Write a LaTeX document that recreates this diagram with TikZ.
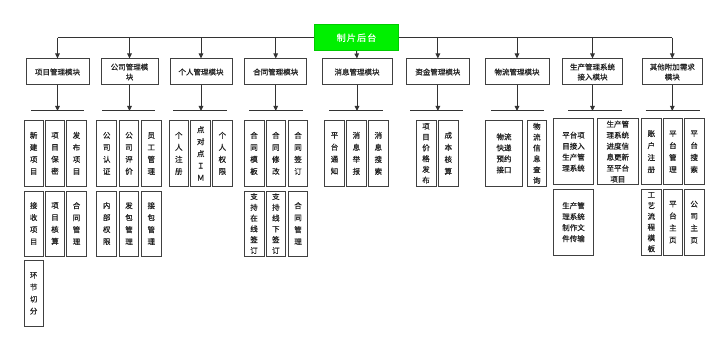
\documentclass[tikz,border=0pt]{standalone}
\usepackage{fontspec}
\setmainfont{Noto Sans CJK SC}[FakeBold=0.6]
\usetikzlibrary{arrows.meta}
\definecolor{ln}{HTML}{333333}
\definecolor{bd}{HTML}{404040}
\definecolor{txt}{HTML}{222222}
\definecolor{topgreen}{HTML}{00F000}
\tikzset{
  conn/.style={draw=ln,line width=1pt},
  arr/.style={conn,-{Triangle[width=4.5pt,length=5pt]}},
  modbox/.style={draw=bd,line width=1pt,fill=white,inner sep=0pt,align=center,text=txt,
    font=\fontsize{7.5}{10}\selectfont},
  leaf/.style={draw=bd,line width=1pt,fill=white,inner sep=0pt,align=center,text=txt,
    font=\fontsize{7.5}{12}\selectfont},
  tight/.style={font=\fontsize{7.5}{10.8}\selectfont},
  hz/.style={font=\fontsize{7.5}{11}\selectfont},
  topbox/.style={fill=topgreen,draw=topgreen!85!black,line width=0.6pt,text=white,inner sep=0pt,
    font=\fontsize{9}{11}\selectfont}
}
\newcommand{\bx}[7][]{%
  \pgfmathsetmacro{\bxw}{#5-#3}\pgfmathsetmacro{\bxh}{#6-#4}%
  \pgfmathsetmacro{\bxx}{(#3+#5)/2}\pgfmathsetmacro{\bxy}{(#4+#6)/2}%
  \node[#1,minimum width=\bxw pt,minimum height=\bxh pt] (#2) at (\bxx,\bxy) {#7};}
\begin{document}
\begin{tikzpicture}[x=1pt,y=-1pt]
\useasboundingbox (0,0) rectangle (720,342);
\fill[white] (0,0) rectangle (720,342);
% bus
\coordinate (busL) at (57.5,37.7);
\coordinate (busR) at (672,37.7);
\draw[conn] (busL) -- (busR);
% top node
\bx[topbox]{top}{314.7}{24.7}{398.3}{50.7}{制\hspace{1.2pt}片\hspace{1.2pt}后\hspace{1.2pt}台}
% modules
\bx[modbox]{m1}{26}{59}{89}{85}{项目管理模块}
\bx[modbox]{m2}{101}{59}{158}{85}{公司管理模\\块}
\bx[modbox]{m3}{170}{59}{232}{85}{个人管理模块}
\bx[modbox]{m4}{244.7}{59}{306.7}{85}{合同管理模块}
\bx[modbox]{m5}{322}{59}{392}{85}{消息管理模块}
\bx[modbox]{m6}{406.7}{59}{469}{85}{资金管理模块}
\bx[modbox]{m7}{485}{59}{549}{85}{物流管理模块}
\bx[modbox]{m8}{562.3}{59}{622.7}{85}{生产管理系统\\接入模块}
\bx[modbox]{m9}{642.3}{59}{702.3}{85}{其他附加需求\\模块}
% top arrows
\foreach \m in {m1,m2,m3,m4,m6,m7,m8,m9}{
  \draw[arr] (\m.north |- busL) -- (\m.north);
}
\draw[arr] (top.south) -- (m5.north);
% bars
\foreach \m/\a/\b in {m1/31/84,m2/102/155,m3/173/227,m4/249/302.7,m5/329/383,m6/410/463,m7/491/544,m8/568/622,m9/645.7/700}{
  \coordinate (\m bl) at (\a,111);
  \coordinate (\m br) at (\b,111);
  \draw[conn] (\m bl) -- (\m br);
  \draw[arr] (\m.south) -- (\m.south |- \m bl);
}
% group 1
\bx[leaf]{l11}{24}{120.7}{43.3}{186}{新\\建\\项\\目}
\bx[leaf]{l12}{45.3}{120.7}{64.7}{186}{项\\目\\保\\密}
\bx[leaf]{l13}{66.7}{120.7}{86.3}{186}{发\\布\\项\\目}
\bx[leaf]{l14}{24}{191}{43.3}{256}{接\\收\\项\\目}
\bx[leaf]{l15}{45.3}{191}{64.7}{256}{项\\目\\核\\算}
\bx[leaf]{l16}{66.7}{191}{86.3}{256}{合\\同\\管\\理}
\bx[leaf]{l17}{24}{260.7}{43.3}{326}{环\\节\\切\\分}
% group 2
\bx[leaf]{l21}{96.7}{120.7}{116.7}{186}{公\\司\\认\\证}
\bx[leaf]{l22}{119.3}{120.7}{138.7}{186}{公\\司\\评\\价}
\bx[leaf]{l23}{141.3}{120.7}{161.3}{186}{员\\工\\管\\理}
\bx[leaf]{l24}{96.7}{191}{116.7}{256}{内\\部\\权\\限}
\bx[leaf]{l25}{119.3}{191}{138.7}{256}{发\\包\\管\\理}
\bx[leaf]{l26}{141.3}{191}{161.3}{256}{接\\包\\管\\理}
% group 3
\bx[leaf]{l31}{169.3}{120.7}{188.3}{186}{个\\人\\注\\册}
\bx[leaf]{l32}{190.7}{120.7}{210.7}{186}{点\\对\\点\\Ｉ\\Ｍ}
\bx[leaf]{l33}{212.7}{120.7}{232}{186}{个\\人\\权\\限}
% group 4
\bx[leaf]{l41}{244}{120.7}{264}{186}{合\\同\\模\\板}
\bx[leaf]{l42}{266}{120.7}{285.7}{186}{合\\同\\修\\改}
\bx[leaf]{l43}{288.3}{120.7}{307.7}{186}{合\\同\\签\\订}
\bx[leaf,tight]{l44}{244}{191}{264}{256}{支\\持\\在\\线\\签\\订}
\bx[leaf,tight]{l45}{266}{191}{285.7}{256}{支\\持\\线\\下\\签\\订}
\bx[leaf]{l46}{288.3}{191}{307.7}{256}{合\\同\\管\\理}
% group 5
\bx[leaf]{l51}{324.3}{120.7}{344.7}{186}{平\\台\\通\\知}
\bx[leaf]{l52}{346.7}{120.7}{366}{186}{消\\息\\举\\报}
\bx[leaf]{l53}{368.3}{120.7}{388.3}{186}{消\\息\\搜\\索}
% group 6
\bx[leaf,tight]{l61}{416}{120.7}{436}{186}{项\\目\\价\\格\\发\\布}
\bx[leaf]{l62}{438.3}{120.7}{458.3}{186}{成\\本\\核\\算}
% group 7
\bx[leaf,hz]{l71}{485.3}{120.7}{522.7}{186}{物流\\快递\\预约\\接口}
\bx[leaf,tight]{l72}{527}{120.7}{546.7}{186}{物\\流\\信\\息\\查\\询}
% group 8
\bx[leaf,hz]{l81}{553.3}{119}{593.7}{184.3}{平台项\\目接入\\生产管\\理系统}
\bx[leaf,hz]{l82}{597.3}{119}{638.3}{184.3}{生产管\\理系统\\进度信\\息更新\\至平台\\项目}
\bx[leaf,hz]{l83}{553.3}{189.3}{593.7}{255}{生产管\\理系统\\制作文\\件传输}
% group 9
\bx[leaf]{l91}{641.7}{119}{661}{184.3}{账\\户\\注\\册}
\bx[leaf]{l92}{663}{119}{682.7}{184.3}{平\\台\\管\\理}
\bx[leaf]{l93}{684.3}{119}{704}{184.3}{平\\台\\搜\\索}
\bx[leaf,tight]{l94}{641.7}{189.3}{661}{255}{工\\艺\\流\\程\\模\\板}
\bx[leaf]{l95}{663}{189.3}{682.7}{255}{平\\台\\主\\页}
\bx[leaf]{l96}{684.3}{189.3}{704}{255}{公\\司\\主\\页}
\end{tikzpicture}
\end{document}
